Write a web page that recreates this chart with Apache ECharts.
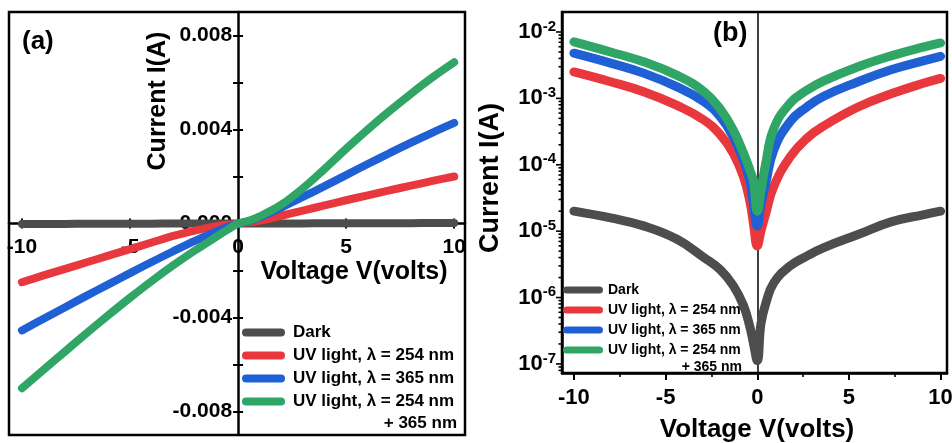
<!DOCTYPE html>
<html><head><meta charset="utf-8">
<script src="https://cdn.jsdelivr.net/npm/echarts@6/dist/echarts.min.js"></script>
<style>html,body{margin:0;padding:0;background:#fff}#c{width:952px;height:443px}</style>
</head><body><div id="c"></div>
<script>
// ---------- data ----------
const seriesNames = ['Dark', 'UV light, \u03bb = 254 nm', 'UV light, \u03bb = 365 nm', 'UV light, \u03bb = 254 nm\n+ 365 nm'];

// panel (a): linear I-V
const voltA  = [-10,-9,-8,-7,-6,-5,-4,-3,-2,-1,-0.5,0,0.5,1,2,3,4,5,6,7,8,9,10];
const darkA  = [-2.0e-5,-1.8e-5,-1.6e-5,-1.4e-5,-1.2e-5,-9e-6,-6e-6,-4e-6,-2.6e-6,-1.1e-6,-5e-7,0,5e-7,1.2e-6,2.6e-6,4.2e-6,6.5e-6,8.5e-6,1.0e-5,1.3e-5,1.5e-5,1.8e-5,2.0e-5];
const redA   = [-0.0025,-0.00221,-0.00193,-0.00165,-0.00137,-0.00109,-0.00081,-0.00053,-0.0003,-0.00011,-0.00005,0,0.00005,0.00012,0.00033,0.00055,0.00077,0.00099,0.0012,0.00141,0.00161,0.00181,0.002];
const blueA  = [-0.00455,-0.00405,-0.00356,-0.00307,-0.00259,-0.00211,-0.00164,-0.00118,-0.00074,-0.00034,-0.00015,0,0.0001,0.00026,0.00068,0.00113,0.00159,0.00206,0.00253,0.00299,0.00344,0.00387,0.00428];
const greenA = [-0.00701,-0.00622,-0.00544,-0.00466,-0.0039,-0.00316,-0.00245,-0.00178,-0.00115,-0.00056,-0.00027,0,0.00012,0.0003,0.0008,0.0015,0.00232,0.00318,0.004,0.00478,0.00552,0.00622,0.00686];

// panel (b): |I| on log scale
const voltB  = [-10,-8,-6.2,-4.4,-2.9,-2,-1.3,-0.75,-0.4,-0.2,0,0.2,0.45,0.9,1.8,2.7,3.6,5.5,7.3,9.1,10];
const darkB  = [2.0e-5,1.58e-5,1.2e-5,7.6e-6,4.0e-6,2.6e-6,1.5e-6,7.6e-7,3.6e-7,2.0e-7,1.12e-7,4.0e-7,7.9e-7,1.66e-6,3.0e-6,4.2e-6,5.6e-6,8.9e-6,1.38e-5,1.78e-5,2.0e-5];
const redB   = [2.5e-3,1.78e-3,1.26e-3,7.9e-4,4.7e-4,2.8e-4,1.48e-4,6.6e-5,2.8e-5,1.26e-5,6.0e-6,1.0e-5,1.78e-5,4.7e-5,1.32e-4,2.5e-4,3.8e-4,7.4e-4,1.17e-3,1.7e-3,2.0e-3];
const blueB  = [4.8e-3,3.4e-3,2.4e-3,1.5e-3,8.9e-4,5.2e-4,2.6e-4,1.17e-4,5.6e-5,2.5e-5,1.2e-5,2.5e-5,5.0e-5,1.66e-4,4.5e-4,7.4e-4,1.07e-3,1.78e-3,2.7e-3,3.7e-3,4.3e-3];
const greenB = [7.1e-3,5.0e-3,3.55e-3,2.24e-3,1.26e-3,6.8e-4,3.3e-4,1.5e-4,8.3e-5,5.6e-5,2.0e-5,4.0e-5,1.0e-4,3.5e-4,8.5e-4,1.32e-3,1.82e-3,3.0e-3,4.37e-3,5.96e-3,6.84e-3];

// ticks / labels
const xTickA  = [-10,-5,5,10];
const xLabelA = [-10,-5,0,5,10];
const yTickA  = [-0.008,-0.006,-0.004,-0.002,0.002,0.004,0.006,0.008];
const yLabelA = [-0.008,-0.004,0,0.004,0.008];
const xTickB  = [-10,-5,0,5,10];
const yMajorB = [1e-7,1e-6,1e-5,1e-4,1e-3,1e-2];
const yMinorB = [];
[-8,-7,-6,-5,-4,-3,-2].forEach(function(e){ [2,3,4,5,6,7,8,9].forEach(function(k){ const v = k*Math.pow(10,e); if (v > 7.3e-8 && v < 0.02) yMinorB.push(v); }); });

// ---------- layout ----------
const gridA = {left:9, top:12, width:456, height:423};
const gridB = {left:562, top:12, width:385, height:361};
const xRangeA = [-10.6, 10.5];
const yRangeA = [-0.009, 0.009];
// distance from the default (edge) axis position to the zero position
const yAxisShiftA = gridA.width * (0 - xRangeA[0]) / (xRangeA[1] - xRangeA[0]);
const xAxisShiftA = gridA.height * (0 - yRangeA[0]) / (yRangeA[1] - yRangeA[0]);

// ---------- chart ----------
const FONT = '"Liberation Sans", Arial, Helvetica, sans-serif';
const colors = ['#4d4d4d','#e8383d','#1f60d5','#2fa566'];
const dataA = [darkA, redA, blueA, greenA];
const dataB = [darkB, redB, blueB, greenB];
const pair = (xs, ys) => xs.map((x, i) => [x, ys[i]]);
const capsule = 'path://M4 0H39A4 4 0 0 1 39 8H4A4 4 0 0 1 4 0Z';
const bold = (s) => ({color:'#000', fontSize:s, fontWeight:'bold', fontFamily:FONT});

function tickRenderer(len) {
  return function (params, api) {
    const y = api.coord([0, api.value(0)])[1];
    const x0 = params.coordSys.x;
    return {type:'line', shape:{x1:x0 - len, y1:y, x2:x0, y2:y}, style:{stroke:'#000', lineWidth:1.6}};
  };
}

const series = [];
dataA.forEach(function (d, i) {
  series.push({type:'line', name:seriesNames[i], xAxisIndex:0, yAxisIndex:0, data:pair(voltA, d),
    showSymbol:false, smooth:0.35, lineStyle:{width:8, color:colors[i], cap:'round', join:'round'},
    itemStyle:{color:colors[i]}, emphasis:{disabled:true}, silent:true});
});
dataB.forEach(function (d, i) {
  const s = {type:'line', name:seriesNames[i], xAxisIndex:2, yAxisIndex:2, data:pair(voltB, d),
    showSymbol:false, smooth:0.45, lineStyle:{width:9, color:colors[i], cap:'round', join:'round'},
    itemStyle:{color:colors[i]}, emphasis:{disabled:true}, silent:true};
  if (i === 0) {
    s.markLine = {silent:true, z:1, symbol:['none','none'], label:{show:false}, animation:false,
      lineStyle:{color:'#000', width:1.5, type:'solid'}, emphasis:{disabled:true}, data:[{xAxis:0}]};
  }
  series.push(s);
});
series.push({type:'custom', xAxisIndex:2, yAxisIndex:2, data:yMajorB.map(v => [v]), renderItem:tickRenderer(6), silent:true, clip:false});
series.push({type:'custom', xAxisIndex:2, yAxisIndex:2, data:yMinorB.map(v => [v]), renderItem:tickRenderer(3.5), silent:true, clip:false});

const legendCommon = {orient:'vertical', padding:0, selectedMode:false, symbolKeepAspect:false, icon:capsule,
  itemStyle:{borderWidth:0}, data:seriesNames, formatter:(n) => n.split('\n')[0]};

const option = {
  animation:false,
  backgroundColor:'#fff',
  color:colors,
  grid:[
    Object.assign({show:true, borderColor:'#000', borderWidth:2.5, backgroundColor:'transparent', containLabel:false, outerBoundsMode:'none'}, gridA),
    Object.assign({show:true, borderColor:'#000', borderWidth:2.5, backgroundColor:'transparent', containLabel:false, outerBoundsMode:'none'}, gridB)
  ],
  xAxis:[
    {gridIndex:0, type:'value', min:xRangeA[0], max:xRangeA[1], position:'bottom', offset:-xAxisShiftA,
      axisLine:{onZero:false, lineStyle:{color:'#000', width:2.5}},
      axisTick:{customValues:xTickA, length:5, lineStyle:{color:'#000', width:2}},
      axisLabel:Object.assign({customValues:xLabelA, margin:13}, bold(21)), splitLine:{show:false}},
    {gridIndex:0, type:'value', position:'top', min:xRangeA[0], max:xRangeA[1], offset:-(gridA.height - xAxisShiftA),
      axisLine:{onZero:false, show:false},
      axisTick:{customValues:xTickA, length:5, lineStyle:{color:'#000', width:2}},
      axisLabel:{show:false}, splitLine:{show:false}},
    {gridIndex:1, type:'value', min:-10.65, max:10.35,
      axisLine:{onZero:false, lineStyle:{color:'#000', width:2.5}},
      axisTick:{customValues:xTickB, length:7, lineStyle:{color:'#000', width:2}},
      minorTick:{show:true, splitNumber:2, length:4, lineStyle:{color:'#000', width:1.6}},
      axisLabel:Object.assign({customValues:xTickB, margin:14}, bold(22)), splitLine:{show:false}, minorSplitLine:{show:false}}
  ],
  yAxis:[
    {gridIndex:0, type:'value', min:yRangeA[0], max:yRangeA[1], position:'left', offset:-yAxisShiftA,
      axisLine:{onZero:false, lineStyle:{color:'#000', width:2.5}},
      axisTick:{customValues:yTickA, length:5, lineStyle:{color:'#000', width:2}},
      axisLabel:Object.assign({customValues:yLabelA, margin:6, formatter:(v) => v.toFixed(3)}, bold(21)), splitLine:{show:false}},
    {gridIndex:0, type:'value', position:'right', min:yRangeA[0], max:yRangeA[1], offset:-(gridA.width - yAxisShiftA),
      axisLine:{onZero:false, show:false},
      axisTick:{customValues:yTickA, length:5, lineStyle:{color:'#000', width:2}},
      axisLabel:{show:false}, splitLine:{show:false}},
    {gridIndex:1, type:'log', logBase:10, min:7.3e-8, max:0.02,
      axisLine:{onZero:false, lineStyle:{color:'#000', width:2.5}},
      axisTick:{show:false},
      axisLabel:{margin:6, formatter:function (v) {
          const e = Math.log10(v); const r = Math.round(e);
          if (Math.abs(e - r) > 1e-6) return '';
          return '{b|10}{s|' + r + '}';
        },
        rich:{b:{fontSize:22, fontWeight:'bold', fontFamily:FONT, color:'#000', lineHeight:26},
              s:{fontSize:15, fontWeight:'bold', fontFamily:FONT, color:'#000', lineHeight:14, verticalAlign:'top'}}},
      splitLine:{show:false}}
  ],
  legend:[
    Object.assign({left:242, top:324, itemWidth:43, itemHeight:8, itemGap:6,
      textStyle:Object.assign({padding:[0,0,0,3]}, bold(17))}, legendCommon),
    Object.assign({left:563, top:283, itemWidth:40, itemHeight:7, itemGap:6,
      textStyle:bold(14)}, legendCommon)
  ],
  graphic:[
    {type:'text', x:22, y:42, silent:true, style:{text:'(a)', fill:'#000', font:'bold 26px ' + FONT, align:'left', verticalAlign:'middle'}},
    {type:'text', x:713, y:34, silent:true, style:{text:'(b)', fill:'#000', font:'bold 27px ' + FONT, align:'left', verticalAlign:'middle'}},
    {type:'text', x:158, y:101, rotation:Math.PI/2, silent:true, style:{text:'Current I(A)', fill:'#000', font:'bold 25px ' + FONT, align:'center', verticalAlign:'middle'}},
    {type:'text', x:354, y:272, silent:true, style:{text:'Voltage V(volts)', fill:'#000', font:'bold 25px ' + FONT, align:'center', verticalAlign:'middle'}},
    {type:'text', x:491, y:178, rotation:Math.PI/2, silent:true, style:{text:'Current I(A)', fill:'#000', font:'bold 27px ' + FONT, align:'center', verticalAlign:'middle'}},
    {type:'text', x:757, y:430, silent:true, style:{text:'Voltage V(volts)', fill:'#000', font:'bold 26px ' + FONT, align:'center', verticalAlign:'middle'}},
    {type:'text', x:457, y:423, silent:true, style:{text:seriesNames[3].split('\n')[1], fill:'#000', font:'bold 17px ' + FONT, align:'right', verticalAlign:'middle'}},
    {type:'text', x:742, y:367, silent:true, style:{text:seriesNames[3].split('\n')[1], fill:'#000', font:'bold 14px ' + FONT, align:'right', verticalAlign:'middle'}}
  ],
  series:series
};

const chart = echarts.init(document.getElementById('c'));
chart.setOption(option);
</script>
</body></html>
